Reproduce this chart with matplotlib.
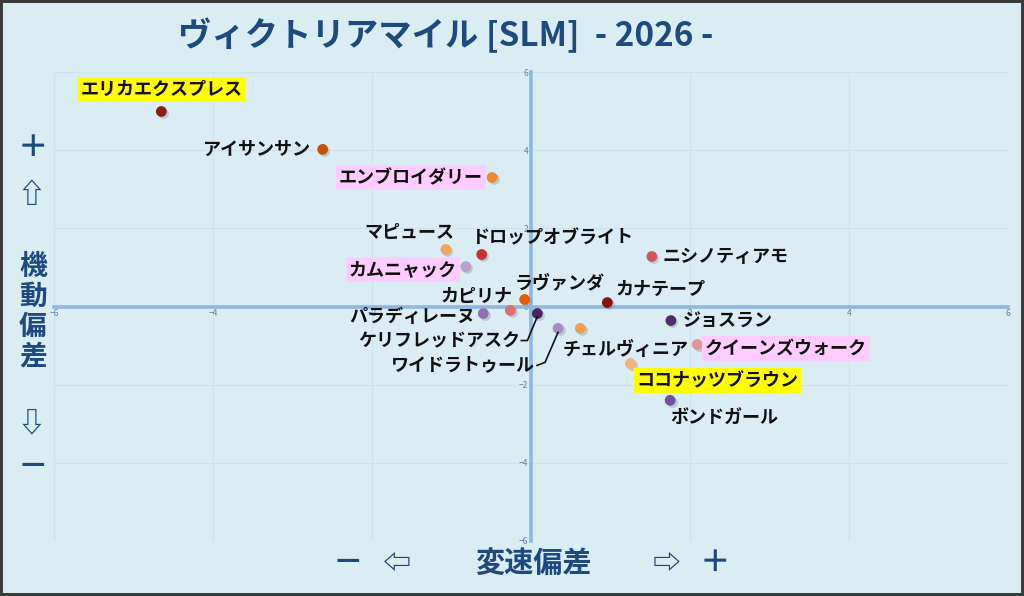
import matplotlib
matplotlib.use("Agg")
import matplotlib.pyplot as plt

plt.rcParams['font.family'] = ['Noto Sans CJK JP', 'DejaVu Sans']

# ------------------ DATA ------------------

horses = ["エリカエクスプレス", "アイサンサン", "エンブロイダリー", "マピュース",
          "ドロップオブライト", "カムニャック", "ラヴァンダ", "カピリナ",
          "パラディレーヌ", "ケリフレッドアスク", "ワイドラトゥール", "チェルヴィニア",
          "ココナッツブラウン", "ジョスラン", "クイーンズウォーク", "ボンドガール",
          "ニシノティアモ", "カナテープ"]
speed_dev = [-4.65, -2.62, -0.49, -1.07, -0.62, -0.82, -0.08, -0.26, -0.60,
             0.08, 0.34, 0.62, 1.25, 1.76, 2.09, 1.75, 1.52, 0.96]
mobility_dev = [4.99, 4.02, 3.30, 1.46, 1.33, 1.02, 0.18, -0.10, -0.18,
                -0.18, -0.56, -0.56, -1.46, -0.36, -0.97, -2.40, 1.28, 0.10]
dot_colors = ["#8b1c1c", "#c65200", "#ef8a2a", "#f2a65a", "#c83232", "#b9a3c9",
              "#e06008", "#d87272", "#9070b0", "#4a2466", "#a58cc4", "#f2a050",
              "#f6b27a", "#4e2f6e", "#e09696", "#7352a2", "#d25858", "#881414"]
yellow_names = ["エリカエクスプレス", "ココナッツブラウン"]
pink_names = ["エンブロイダリー", "カムニャック", "クイーンズウォーク"]
ticks = [-6, -4, -2, 0, 2, 4, 6]

# label placement: (dx px, dy px, ha, va)
label_pos = {
    "エリカエクスプレス": (0, 22, "center", "center"),
    "アイサンサン": (-12, 0, "right", "center"),
    "エンブロイダリー": (-9, 0, "right", "center"),
    "マピュース": (-37, 17, "center", "center"),
    "ドロップオブライト": (-11, 17, "left", "center"),
    "カムニャック": (-9, -3, "right", "center"),
    "ラヴァンダ": (-10, 17, "left", "center"),
    "カピリナ": (2, 14, "right", "center"),
    "パラディレーヌ": (-8, -3, "right", "center"),
    "ケリフレッドアスク": (-17, -27, "right", "center"),
    "ワイドラトゥール": (-23, -36, "right", "center"),
    "チェルヴィニア": (-18, -21, "left", "center"),
    "ココナッツブラウン": (6, -17, "left", "center"),
    "ジョスラン": (12, -1, "left", "center"),
    "クイーンズウォーク": (8, -4, "left", "center"),
    "ボンドガール": (0, -18, "left", "center"),
    "ニシノティアモ": (11, 0, "left", "center"),
    "カナテープ": (8, 13, "left", "center"),
}
leaders = {"ケリフレッドアスク": [(-16, -27), (-10, -27), (0, -3)],
           "ワイドラトゥール": [(-21, -37), (-13, -34), (0, -4)]}

BG = "#dbedf4"
NAVY = "#1f4a80"

fig = plt.figure(figsize=(10.24, 5.96), dpi=100, facecolor=BG,
                 edgecolor="#3c3c3c", linewidth=3)
ax = fig.add_axes([54 / 1024, 1 - 541 / 596, 954 / 1024, 469 / 596])
ax.set_facecolor(BG)
ax.set_xlim(-6, 6)
ax.set_ylim(-6, 6)
ax.set_xticks(ticks)
ax.set_yticks(ticks)
ax.grid(True, color="#cde2ef", lw=0.8)
for s in ["top", "right"]:
    ax.spines[s].set_visible(False)
for s in ["left", "bottom"]:
    ax.spines[s].set_position("zero")
    ax.spines[s].set_color("#8fb6e4")
    ax.spines[s].set_linewidth(2.6)
ax.tick_params(length=0, labelsize=6, labelcolor="#6080a8", pad=2)
ax.set_axisbelow(True)

# dots with a faint shadow
ax.scatter(speed_dev, mobility_dev, s=60, color="#7a8890", alpha=0.35,
           transform=ax.transData + matplotlib.transforms.ScaledTranslation(1.5 / 100, -1.5 / 100, fig.dpi_scale_trans),
           zorder=3, linewidths=0)
ax.scatter(speed_dev, mobility_dev, s=60, c=dot_colors, zorder=4, linewidths=0)

for name, x, y in zip(horses, speed_dev, mobility_dev):
    dx, dy, ha, va = label_pos[name]
    box = None
    if name in yellow_names:
        box = dict(boxstyle="square,pad=0.15", fc="#ffff00", ec="none")
    elif name in pink_names:
        box = dict(boxstyle="square,pad=0.15", fc="#ffccff", ec="none")
    ax.annotate(name, (x, y), xytext=(dx, dy), textcoords="offset pixels",
                ha=ha, va=va, fontsize=13, fontweight="bold", color="#111111",
                bbox=box, zorder=5)
    if name in leaders:
        pts = leaders[name]
        tr = ax.transData
        px, py = tr.transform((x, y))
        xs = [px + p[0] for p in pts]
        ys = [py + p[1] for p in pts]
        inv = tr.inverted()
        line = [inv.transform((a, b)) for a, b in zip(xs, ys)]
        ax.plot([p[0] for p in line], [p[1] for p in line], color="#111111", lw=1.2, zorder=5)

# title and axis captions
fig.text(178 / 1024, 1 - 35 / 596, "ヴィクトリアマイル [SLM]  - 2026 -", fontsize=24,
         fontweight="bold", color=NAVY, ha="left", va="center")

side = dict(color=NAVY, ha="center", va="center", fontweight="bold")
fig.text(33 / 1024, 1 - 148 / 596, "＋", fontsize=22, **side)
fig.text(31 / 1024, 1 - 195 / 596, "⇧", fontsize=20, **side)
fig.text(33 / 1024, 1 - 312 / 596, "機\n動\n偏\n差", fontsize=20, linespacing=1.08, **side)
fig.text(31 / 1024, 1 - 423 / 596, "⇩", fontsize=20, **side)
fig.text(33 / 1024, 1 - 467 / 596, "－", fontsize=22, **side)

fig.text(348 / 1024, 1 - 563 / 596, "－", fontsize=22, **side)
fig.text(397 / 1024, 1 - 563 / 596, "⇦", fontsize=20, **side)
fig.text(533 / 1024, 1 - 563 / 596, "変速偏差", fontsize=21, **side)
fig.text(667 / 1024, 1 - 563 / 596, "⇨", fontsize=20, **side)
fig.text(715 / 1024, 1 - 563 / 596, "＋", fontsize=22, **side)

fig.savefig("out.png", dpi=100, facecolor=BG, edgecolor="#3c3c3c")
